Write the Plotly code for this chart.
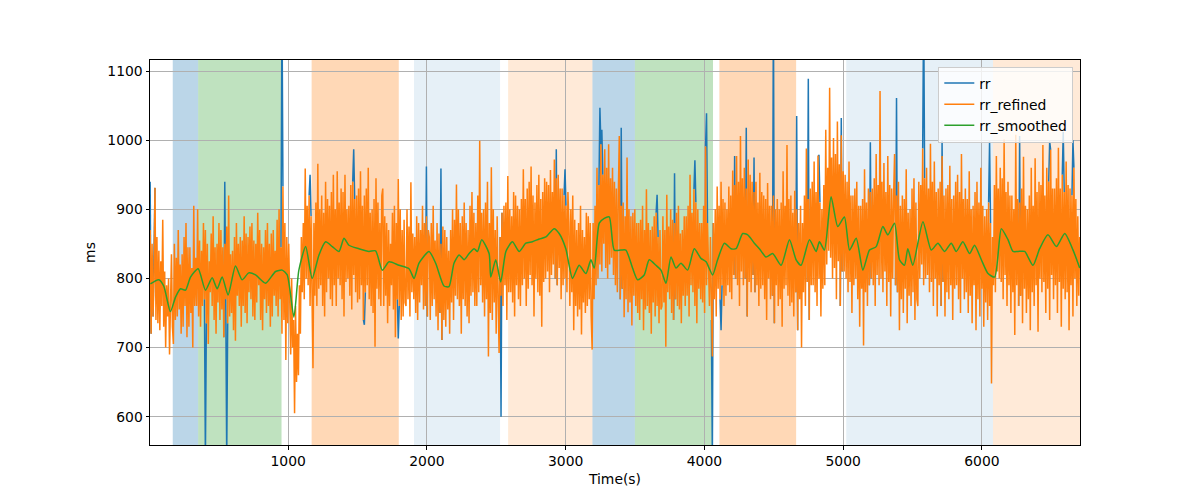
import numpy as np
import plotly.graph_objects as go

# ---------------- data ----------------
T_START, T_END = 5, 6705

rr_refined = [
    870, 720, 850, 745, 800, 931, 740, 860, 735, 840, 725, 825, 760, 885, 730, 810, 700, 790, 745, 800, 690, 760, 835, 730,
    705, 850, 740, 830, 745, 870, 755, 820, 720, 835, 730, 860, 760, 880, 715, 845, 730, 845, 750, 815, 700, 905, 760, 830,
    760, 900, 745, 855, 730, 840, 760, 880, 770, 870, 735, 850, 705, 825, 780, 865, 760, 890, 740, 845, 720, 850, 765, 880,
    740, 870, 755, 845, 715, 850, 770, 875, 735, 920, 745, 835, 750, 840, 725, 860, 710, 880, 775, 850, 760, 860, 730, 855,
    760, 890, 750, 865, 735, 860, 780, 875, 770, 880, 745, 855, 740, 850, 765, 895, 790, 870, 740, 850, 725, 845, 770, 870,
    750, 880, 760, 850, 730, 865, 745, 870, 775, 840, 760, 885, 745, 900, 770, 845, 720, 933, 740, 880, 682, 860, 735, 850,
    780, 690, 800, 700, 740, 605, 760, 650, 720, 660, 790, 720, 860, 780, 880, 770, 959, 800, 905, 790, 920, 760, 890, 780,
    670, 880, 775, 910, 760, 966, 785, 900, 790, 920, 760, 895, 745, 940, 780, 915, 800, 905, 770, 925, 760, 950, 790, 900,
    760, 955, 800, 910, 790, 930, 770, 925, 745, 950, 795, 900, 800, 905, 775, 935, 755, 940, 805, 915, 780, 920, 765, 930,
    770, 955, 790, 905, 740, 920, 780, 930, 790, 960, 770, 895, 760, 900, 750, 915, 701, 945, 785, 910, 770, 880, 760, 920,
    930, 760, 890, 775, 880, 735, 870, 760, 850, 790, 895, 755, 905, 715, 880, 770, 944, 760, 900, 740, 870, 745, 885, 765,
    760, 900, 770, 875, 745, 939, 780, 865, 770, 860, 750, 890, 740, 880, 765, 870, 790, 905, 755, 880, 760, 890, 745, 870,
    860, 740, 880, 760, 905, 770, 855, 745, 880, 725, 865, 750, 850, 711, 875, 740, 870, 730, 860, 755, 840, 720, 870, 765,
    900, 740, 885, 775, 936, 770, 900, 760, 880, 720, 890, 770, 910, 760, 880, 745, 870, 735, 905, 775, 925, 780, 895, 760,
    880, 760, 920, 780, 999, 790, 895, 765, 900, 745, 910, 770, 940, 687, 880, 750, 961, 740, 900, 765, 870, 720, 890, 770,
    692, 860, 775, 895, 760, 905, 790, 910, 740, 948, 780, 900, 780, 890, 765, 925, 745, 920, 790, 905, 770, 900, 760, 915,
    790, 958, 800, 915, 760, 930, 785, 940, 805, 962, 790, 920, 745, 910, 800, 935, 780, 950, 775, 915, 730, 925, 795, 945,
    800, 940, 810, 935, 780, 957, 805, 925, 820, 972, 800, 945, 790, 950, 815, 930, 770, 930, 790, 920, 800, 905, 780, 925,
    880, 760, 900, 780, 920, 725, 885, 760, 870, 745, 880, 755, 905, 719, 870, 765, 860, 750, 895, 760, 890, 770, 880, 745,
    697, 880, 770, 905, 790, 960, 800, 935, 820, 994, 810, 950, 850, 987, 815, 960, 800, 994, 820, 945, 830, 960, 805, 940,
    790, 930, 780, 920, 1006, 770, 905, 785, 910, 744, 890, 770, 975, 751, 900, 765, 890, 732, 895, 775, 900, 760, 880, 750,
    880, 740, 885, 770, 905, 725, 870, 755, 929, 760, 880, 750, 870, 720, 875, 765, 890, 745, 895, 760, 860, 735, 870, 755,
    760, 890, 765, 870, 701, 921, 780, 875, 770, 900, 750, 885, 740, 880, 770, 895, 760, 905, 755, 865, 735, 870, 775, 890,
    760, 890, 775, 905, 745, 950, 790, 895, 780, 929, 760, 910, 735, 900, 785, 880, 770, 880, 765, 905, 750, 991, 790, 880,
    820, 760, 860, 740, 687, 880, 770, 900, 745, 933, 785, 905, 770, 940, 790, 915, 760, 910, 775, 900, 790, 933, 780, 920,
    770, 956, 805, 935, 800, 977, 790, 940, 760, 1006, 810, 945, 790, 960, 800, 930, 745, 972, 795, 950, 780, 940, 805, 925,
    780, 940, 790, 910, 760, 953, 785, 925, 790, 920, 770, 915, 740, 938, 800, 905, 770, 905, 775, 920, 735, 900, 790, 915,
    760, 900, 770, 910, 730, 955, 785, 905, 790, 993, 775, 915, 760, 920, 765, 895, 745, 927, 780, 900, 725, 880, 770, 905,
    700, 880, 780, 920, 760, 988, 795, 915, 740, 930, 790, 940, 790, 969, 780, 925, 760, 978, 800, 910, 745, 900, 785, 935,
    790, 1015, 820, 960, 840, 1076, 830, 975, 800, 1003, 815, 980, 770, 1027, 825, 965, 760, 1007, 810, 955, 810, 950, 800, 940,
    780, 969, 795, 920, 750, 920, 790, 930, 800, 940, 770, 905, 730, 905, 785, 915, 703, 958, 780, 910, 760, 930, 790, 925,
    800, 930, 790, 945, 760, 980, 805, 935, 790, 1071, 800, 940, 780, 967, 810, 925, 760, 977, 795, 935, 745, 930, 800, 920,
    980, 790, 920, 780, 940, 725, 905, 770, 920, 750, 915, 785, 958, 735, 895, 775, 900, 760, 930, 780, 945, 740, 910, 770,
    760, 940, 800, 935, 820, 988, 790, 945, 800, 960, 805, 930, 780, 995, 795, 940, 760, 969, 800, 925, 745, 930, 790, 940,
    760, 977, 795, 920, 745, 930, 780, 935, 770, 963, 790, 915, 740, 920, 785, 940, 790, 950, 770, 925, 750, 980, 800, 915,
    770, 930, 780, 915, 750, 955, 775, 900, 735, 905, 790, 925, 725, 940, 770, 910, 745, 960, 785, 905, 730, 890, 765, 900,
    740, 910, 760, 880, 648, 860, 790, 935, 780, 977, 810, 930, 800, 960, 795, 945, 770, 1001, 805, 925, 760, 940, 790, 920,
    750, 920, 780, 900, 718, 1008, 790, 915, 760, 910, 775, 930, 735, 976, 785, 905, 750, 900, 770, 920, 725, 960, 780, 905,
    760, 974, 790, 925, 723, 940, 800, 935, 780, 993, 795, 920, 750, 960, 785, 940, 740, 986, 805, 930, 770, 930, 790, 945,
    750, 989, 795, 930, 730, 950, 785, 925, 770, 969, 780, 935, 725, 930, 790, 920, 745, 960, 800, 915, 760, 890, 775, 860,
]

# raw rr differs from rr_refined only at artefact beats
spike_t = [5, 33, 404, 545, 560, 957, 1161, 1469, 1546, 1794, 1996, 2099,
           2532, 2935, 2996, 3249, 3261, 3403, 3658, 3783, 3934, 4016, 4059,
           4120, 4218, 4304, 4360, 4500, 4665, 4750, 4829, 4986, 5197, 5382,
           5582, 5714, 6056, 6272, 6489, 6585, 6653]
spike_v = [940, 880, 540, 940, 540, 1200, 950, 987, 733, 713, 962, 959,
           600, 987, 958, 1047, 1015, 1018, 921, 952, 971, 1039, 540,
           725, 977, 1018, 975, 1200, 1035, 1089, 978, 1032, 997, 1061,
           1200, 999, 998, 1006, 998, 1012, 1000]

smooth_t = [7, 67, 103, 151, 188, 224, 260, 296, 351, 404, 452, 488, 524, 567,
            620, 668, 716, 765, 837, 909, 957, 993, 1041, 1077, 1126, 1173,
            1222, 1270, 1318, 1366, 1402, 1438, 1510, 1582, 1630, 1678, 1727,
            1799, 1871, 1907, 1943, 2015, 2063, 2123, 2159, 2195, 2232, 2268,
            2304, 2340, 2364, 2395, 2448, 2460, 2496, 2532, 2569, 2616, 2665,
            2713, 2760, 2809, 2857, 2917, 2953, 3001, 3049, 3097, 3146, 3182,
            3206, 3242, 3278, 3314, 3350, 3398, 3434, 3482, 3518, 3566, 3602,
            3651, 3687, 3723, 3759, 3795, 3831, 3879, 3927, 3975, 4012, 4059,
            4095, 4144, 4192, 4228, 4276, 4312, 4360, 4396, 4444, 4492, 4553,
            4613, 4661, 4697, 4757, 4805, 4829, 4865, 4913, 4961, 5009, 5046,
            5094, 5142, 5190, 5238, 5286, 5322, 5370, 5406, 5442, 5466, 5502,
            5575, 5635, 5683, 5731, 5779, 5815, 5863, 5911, 5947, 5996, 6044,
            6092, 6140, 6188, 6224, 6260, 6308, 6368, 6416, 6476, 6537, 6597,
            6657, 6705]
smooth_v = [792, 798, 789, 752, 773, 785, 783, 802, 814, 783, 801, 785, 802, 776,
            818, 798, 808, 805, 793, 810, 812, 805, 744, 812, 846, 800,
            834, 853, 846, 839, 858, 848, 843, 839, 840, 812, 824,
            819, 814, 800, 822, 839, 822, 789, 788, 822, 834, 827,
            836, 843, 839, 856, 836, 802, 827, 795, 839, 853, 839,
            851, 853, 857, 860, 872, 865, 843, 800, 819, 807, 827,
            815, 880, 887, 889, 841, 841, 841, 815, 798, 805, 827,
            819, 812, 793, 831, 815, 822, 812, 843, 829, 824, 805,
            827, 851, 843, 843, 865, 863, 851, 843, 831, 836, 819,
            856, 827, 819, 856, 839, 853, 841, 918, 875, 889, 841,
            858, 812, 841, 846, 875, 863, 880, 827, 819, 843, 819,
            882, 841, 851, 839, 851, 839, 853, 836, 848, 827, 807,
            802, 872, 856, 839, 839, 839, 819, 843, 863, 846, 865,
            841, 815]

# shaded segments
span_start = [168, 351, 1169, 1907, 2585, 3193, 3499, 4108, 5022, 6080]
span_end = [351, 952, 1797, 2527, 3193, 3499, 4062, 4661, 6080, 6707]
span_rgb = ["31,119,180", "44,160,44", "255,127,14", "31,119,180", "255,127,14",
            "31,119,180", "44,160,44", "255,127,14", "31,119,180", "255,127,14"]
span_alpha = [0.3, 0.3, 0.3, 0.11, 0.16, 0.3, 0.3, 0.3, 0.11, 0.16]

x_ticks = [1000, 2000, 3000, 4000, 5000, 6000]
y_ticks = [600, 700, 800, 900, 1000, 1100]
X_RANGE = [4, 6707]
Y_RANGE = [559, 1116]

# ---------------- build ----------------
t = np.linspace(T_START, T_END, len(rr_refined))
n = len(rr_refined)
rr = list(rr_refined)
spike_idx = []
for ts, v in zip(spike_t, spike_v):
    idx = int(np.argmin(np.abs(t - ts)))
    rr[idx] = v
    spike_idx.append(idx)

# the raw series is hidden under rr_refined wherever they coincide;
# only draw it around the artefact beats so it does not tint the orange band
rr_draw = [None] * n
for idx in spike_idx:
    for j in (idx - 1, idx, idx + 1):
        if 0 <= j < n:
            rr_draw[j] = rr[j]

FONT = "DejaVu Sans"
FS = 13.9

fig = go.Figure()
fig.add_trace(go.Scatter(x=t, y=rr_draw, mode="lines", name="rr",
                         connectgaps=False,
                         line=dict(color="#1f77b4", width=1.5)))
fig.add_trace(go.Scatter(x=t, y=rr_refined, mode="lines", name="rr_refined",
                         line=dict(color="#ff7f0e", width=1.5)))
fig.add_trace(go.Scatter(x=smooth_t, y=smooth_v, mode="lines", name="rr_smoothed",
                         line=dict(color="#2ca02c", width=1.5, shape="spline",
                                   smoothing=0.6)))

for s, e, c, a in zip(span_start, span_end, span_rgb, span_alpha):
    fig.add_shape(type="rect", xref="x", yref="paper", x0=s, x1=e, y0=0, y1=1,
                  fillcolor=f"rgba({c},{a})", line=dict(width=0), layer="below")

axis_common = dict(showline=True, linecolor="black", linewidth=1, mirror=True,
                   ticks="outside", ticklen=3.5, tickwidth=1, tickcolor="black",
                   showgrid=True, gridcolor="#b0b0b0", gridwidth=0.8,
                   zeroline=False, tickfont=dict(family=FONT, size=FS, color="black"))

fig.update_xaxes(range=X_RANGE, tickvals=x_ticks, ticktext=[str(v) for v in x_ticks],
                 title=dict(text="Time(s)", font=dict(family=FONT, size=FS, color="black"),
                            standoff=6), **axis_common)
fig.update_yaxes(range=Y_RANGE, tickvals=y_ticks, ticktext=[str(v) for v in y_ticks],
                 title=dict(text="ms", font=dict(family=FONT, size=FS, color="black"),
                            standoff=8), **axis_common)

fig.update_layout(
    width=1200, height=500,
    margin=dict(l=150, r=120, t=60, b=55),
    paper_bgcolor="white", plot_bgcolor="white",
    font=dict(family=FONT, size=FS, color="black"),
    showlegend=True,
    legend=dict(x=0.9928, y=0.983, xanchor="right", yanchor="top",
                bgcolor="rgba(255,255,255,0.8)", bordercolor="#cccccc", borderwidth=1,
                font=dict(family=FONT, size=FS, color="black"),
                tracegroupgap=0, itemwidth=30),
)

fig.write_html("out.html")
